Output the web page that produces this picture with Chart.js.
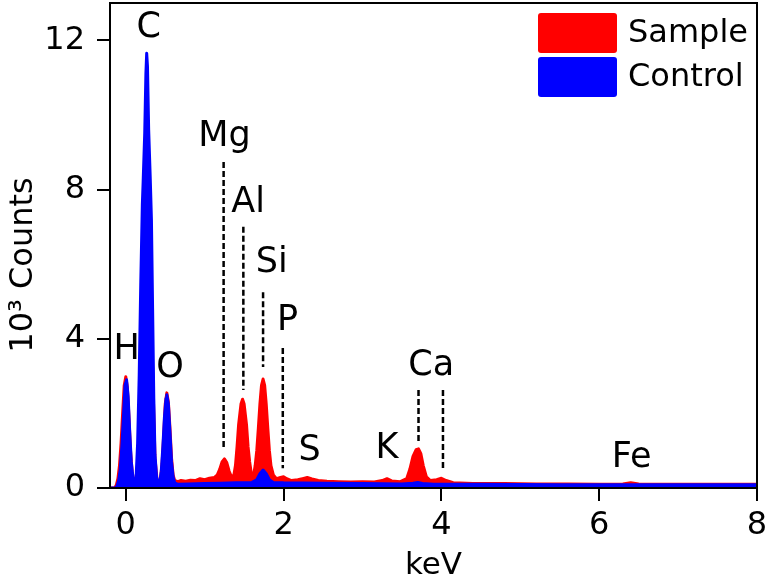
<!DOCTYPE html>
<html>
<head>
<meta charset="utf-8">
<title>EDS spectrum - Sample vs Control</title>
<script src="https://cdn.jsdelivr.net/npm/chart.js@4.4.1/dist/chart.umd.min.js"></script>
<style>
    html, body { margin: 0; padding: 0; background: #fff; }
    #wrap { width: 767px; height: 579px; }
</style>
</head>
<body>
<div id="wrap"><canvas id="spectrum" width="767" height="579"></canvas></div>
<script>
'use strict';

// Sample spectrum (red), energy in keV and counts in 10^3
var sampleKeV = [
    -0.20, -0.14, -0.12, -0.10, -0.08, -0.06, -0.04, -0.02, 0.00, 0.02,
    0.04, 0.06, 0.08, 0.10, 0.12, 0.14, 0.16, 0.20, 0.265, 0.33,
    0.37, 0.40, 0.42, 0.44, 0.46, 0.48, 0.50, 0.52, 0.54, 0.56,
    0.58, 0.60, 0.62, 0.66, 0.70, 0.76, 0.82, 0.88, 0.94, 1.00,
    1.06, 1.12, 1.16, 1.19, 1.22, 1.25, 1.28, 1.31, 1.34, 1.37,
    1.39, 1.41, 1.43, 1.46, 1.48, 1.50, 1.53, 1.55, 1.57, 1.59,
    1.62, 1.64, 1.66, 1.68, 1.70, 1.72, 1.74, 1.76, 1.78, 1.80,
    1.82, 1.84, 1.87, 1.91, 1.96, 2.00, 2.04, 2.10, 2.18, 2.24,
    2.30, 2.36, 2.44, 2.55, 2.70, 2.85, 3.00, 3.15, 3.25, 3.31,
    3.37, 3.48, 3.56, 3.60, 3.64, 3.68, 3.71, 3.74, 3.77, 3.81,
    3.86, 3.94, 4.00, 4.06, 4.15, 4.40, 4.80, 5.20, 5.60, 6.00,
    6.30, 6.40, 6.50, 7.00, 7.50, 8.00
];
var sampleCounts = [
    0, 0, 0.08, 0.25, 0.6, 1.2, 2.0, 2.75, 2.98, 2.7,
    1.9, 1.0, 0.45, 0.2, 0.1, 0.3, 0.9, 3.0, 11.0, 4.0,
    0.8, 0.15, 0.1, 0.25, 0.65, 1.4, 2.25, 2.55, 2.3, 1.6,
    0.8, 0.35, 0.2, 0.17, 0.2, 0.18, 0.21, 0.2, 0.25, 0.22,
    0.26, 0.28, 0.35, 0.5, 0.7, 0.78, 0.68, 0.45, 0.3, 0.35,
    0.6, 1.1, 1.7, 2.25, 2.38, 2.25, 1.7, 1.1, 0.7, 0.4,
    0.35, 0.6, 1.0, 1.6, 2.25, 2.75, 2.92, 2.75, 2.25, 1.6,
    1.0, 0.6, 0.35, 0.25, 0.28, 0.3, 0.25, 0.2, 0.22, 0.25,
    0.28, 0.24, 0.2, 0.18, 0.17, 0.16, 0.17, 0.16, 0.2, 0.25,
    0.19, 0.17, 0.25, 0.5, 0.85, 1.03, 1.05, 0.92, 0.6, 0.3,
    0.2, 0.22, 0.26, 0.2, 0.14, 0.12, 0.12, 0.11, 0.11, 0.1,
    0.11, 0.14, 0.11, 0.1, 0.1, 0.1
];

// Control spectrum (blue)
var controlKeV = [
    -0.20, -0.13, -0.11, -0.09, -0.07, -0.05, -0.03, -0.01, 0.01, 0.03,
    0.05, 0.07, 0.09, 0.11, 0.13, 0.15, 0.17, 0.19, 0.21, 0.22,
    0.24, 0.255, 0.265, 0.275, 0.29, 0.31, 0.325, 0.34, 0.355, 0.37,
    0.39, 0.41, 0.43, 0.45, 0.47, 0.49, 0.51, 0.52, 0.54, 0.56,
    0.58, 0.60, 0.62, 0.66, 0.80, 1.00, 1.20, 1.40, 1.60, 1.66,
    1.70, 1.74, 1.78, 1.82, 1.87, 2.00, 2.50, 3.00, 3.50, 3.64,
    3.70, 3.76, 3.90, 4.50, 5.50, 6.50, 7.50, 8.00
];
var controlCounts = [
    0, 0, 0.06, 0.2, 0.5, 1.1, 1.9, 2.75, 2.9, 2.45,
    1.5, 0.7, 0.3, 0.12, 0.25, 1.2, 3.0, 5.5, 7.6, 8.2,
    9.5, 11.1, 11.65, 11.3, 9.6, 8.3, 7.2, 4.8, 2.4, 0.9,
    0.3, 0.12, 0.15, 0.45, 1.1, 1.9, 2.4, 2.5, 2.25, 1.5,
    0.7, 0.3, 0.14, 0.1, 0.11, 0.12, 0.13, 0.14, 0.15, 0.22,
    0.38, 0.48, 0.38, 0.22, 0.15, 0.14, 0.13, 0.12, 0.11, 0.13,
    0.15, 0.12, 0.1, 0.1, 0.09, 0.09, 0.09, 0.09
];

// Tick labels
var xTicks = [0, 2, 4, 6, 8];
var yTicks = [0, 4, 8, 12];

// Element labels (text centre in keV, baseline in 10^3 counts)
var peakNames = ['H', 'C', 'O', 'Mg', 'Al', 'Si', 'P', 'S', 'K', 'Ca', 'Fe'];
var peakLabelKeV = [0.01, 0.29, 0.56, 1.25, 1.55, 1.85, 2.05, 2.33, 3.31, 3.87, 6.41];
var peakLabelCounts = [3.46, 12.09, 2.98, 9.17, 7.40, 5.79, 4.24, 0.75, 0.80, 3.03, 0.56];

// Dashed marker lines
var markerKeV = [1.24, 1.49, 1.74, 1.99, 3.71, 4.02];
var markerTop = [8.74, 7.0, 5.25, 3.75, 2.63, 2.63];
var markerBottom = [1.02, 2.63, 3.24, 0.53, 1.23, 0.48];

var FONT = "'DejaVu Sans', Verdana, sans-serif";

function toPoints(xs, ys) {
    return xs.map(function(x, i) {
        return { x: x, y: ys[i] };
    });
}

function spectrumDataset(label, xs, ys, color, order) {
    return {
        label: label,
        data: toPoints(xs, ys),
        borderColor: color,
        backgroundColor: color,
        borderWidth: 3,
        borderJoinStyle: 'round',
        pointRadius: 0,
        tension: 0,
        fill: 'origin',
        order: order
    };
}

var datasets = [
    spectrumDataset('Control', controlKeV, controlCounts, '#0000ff', 1),
    spectrumDataset('Sample', sampleKeV, sampleCounts, '#ff0000', 2)
];

// one small dataset per dashed marker
markerKeV.forEach(function(k, i) {
    datasets.push({
        label: 'marker' + i,
        data: [{ x: k, y: markerTop[i] }, { x: k, y: markerBottom[i] }],
        borderColor: '#000',
        borderWidth: 2.5,
        borderDash: [6, 3],
        pointRadius: 0,
        fill: false,
        order: 0
    });
});

var legendLabels = ['Sample', 'Control'];

/**
 * Frame, element labels, y title and legend
 */
var decorations = {
    id: 'decorations',
    afterDraw: function(chart) {
        var ctx = chart.ctx;
        var area = chart.chartArea;
        var xs = chart.scales.x;
        var ys = chart.scales.y;

        ctx.save();
        ctx.strokeStyle = '#000';
        ctx.lineWidth = 2;
        ctx.strokeRect(area.left, area.top, area.right - area.left, area.bottom - area.top);

        // element labels
        ctx.fillStyle = '#000';
        ctx.font = '35px ' + FONT;
        ctx.textAlign = 'center';
        ctx.textBaseline = 'alphabetic';
        peakNames.forEach(function(name, i) {
            ctx.fillText(name, xs.getPixelForValue(peakLabelKeV[i]), ys.getPixelForValue(peakLabelCounts[i]));
        });

        // y axis title
        ctx.save();
        ctx.translate(24, 265);
        ctx.rotate(-Math.PI / 2);
        ctx.font = '32px ' + FONT;
        ctx.textBaseline = 'middle';
        ctx.fillText('10\u00B3 Counts', 0, 0);
        ctx.restore();

        // legend
        ctx.font = '32px ' + FONT;
        ctx.textAlign = 'left';
        ctx.textBaseline = 'middle';
        legendLabels.forEach(function(label, i) {
            var ds = chart.data.datasets.filter(function(d) { return d.label === label; })[0];
            var top = 13 + i * 44;
            ctx.fillStyle = ds.backgroundColor;
            ctx.beginPath();
            ctx.roundRect(538, top, 79, 40, 3);
            ctx.fill();
            ctx.fillStyle = '#000';
            ctx.fillText(label, 628, top + 21);
        });
        ctx.restore();
    }
};

function fixScale(size) {
    return function(scale) {
        if (scale.isHorizontal()) {
            scale.height = size;
        } else {
            scale.width = size;
        }
        scale.paddingTop = 0;
        scale.paddingBottom = 0;
        scale.paddingLeft = 0;
        scale.paddingRight = 0;
    };
}

var axisGrid = {
    display: true,
    drawOnChartArea: false,
    drawTicks: true,
    tickLength: 13,
    color: '#000',
    lineWidth: 2
};

new Chart(document.getElementById('spectrum'), {
    type: 'line',
    data: { datasets: datasets },
    options: {
        responsive: false,
        animation: false,
        devicePixelRatio: 1,
        layout: { padding: { top: 3, right: 10, left: 0, bottom: 0 } },
        plugins: {
            legend: { display: false },
            tooltip: { enabled: false }
        },
        scales: {
            x: {
                type: 'linear',
                min: -0.2,
                max: 8,
                z: 1,
                afterBuildTicks: function(scale) {
                    scale.ticks = xTicks.map(function(v) { return { value: v }; });
                },
                afterFit: fixScale(91),
                grid: axisGrid,
                border: { display: true, color: '#000', width: 2 },
                ticks: {
                    color: '#000',
                    padding: 5,
                    maxRotation: 0,
                    font: { family: FONT, size: 32 }
                },
                title: {
                    display: true,
                    text: 'keV',
                    color: '#000',
                    padding: { top: 0, bottom: -6 },
                    font: { family: FONT, size: 31 }
                }
            },
            y: {
                type: 'linear',
                min: 0,
                max: 13,
                z: 1,
                afterBuildTicks: function(scale) {
                    scale.ticks = yTicks.map(function(v) { return { value: v }; });
                },
                afterFit: fixScale(110),
                grid: axisGrid,
                border: { display: true, color: '#000', width: 2 },
                ticks: {
                    color: '#000',
                    padding: 12,
                    font: { family: FONT, size: 32 }
                }
            }
        }
    },
    plugins: [decorations]
});
</script>
</body>
</html>
